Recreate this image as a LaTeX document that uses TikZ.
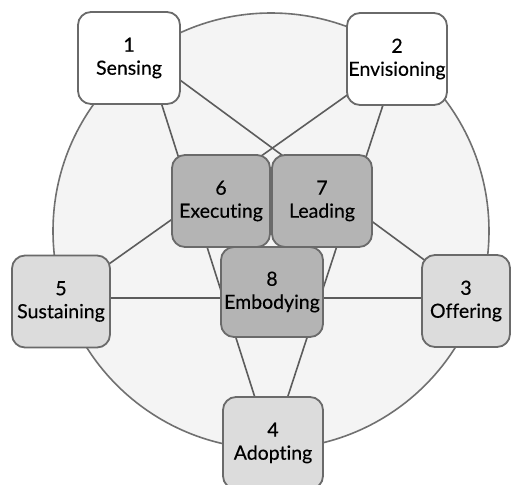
\documentclass[tikz,border=0pt]{standalone}
\usepackage{fontspec}
\setmainfont{Lato}[FakeBold=0.35, Ligatures={NoCommon}]
\begin{document}
\definecolor{ringfill}{HTML}{F4F4F4}
\definecolor{ringline}{HTML}{707070}
\definecolor{starline}{HTML}{5C5C5C}
\definecolor{boxline}{HTML}{6A6A6A}
\definecolor{lightA}{HTML}{DCDCDC}
\definecolor{lightB}{HTML}{E7E7E7}
\definecolor{darkA}{HTML}{B4B4B4}
\definecolor{darkB}{HTML}{C0C0C0}
\begin{tikzpicture}[x=1pt,y=-1pt,
  stagebox/.style={draw=boxline, line width=1.8pt, rounded corners=13pt,
    align=center, inner sep=0pt, minimum height=92pt,
    font=\fontsize{19.5}{23}\selectfont},
  whitebox/.style={stagebox, fill=white},
  lightbox/.style={stagebox, top color=lightA, middle color=lightB, bottom color=lightA},
  darkbox/.style={stagebox, top color=darkA, middle color=darkB, bottom color=darkA},
  starlink/.style={draw=starline, line width=1.6pt}]
\useasboundingbox (0,0) rectangle (512,485);

% ring through the five outer stages
\coordinate (ctr) at (271,231);
\draw[fill=ringfill, draw=ringline, line width=1.6pt] (ctr) circle[radius=218pt];

% pentagram vertices on the ring
\coordinate (p1) at (146,55);
\coordinate (p2) at (398,59);
\coordinate (p3) at (476,298);
\coordinate (p4) at (271,448);
\coordinate (p5) at (61,298);
\draw[starlink] (p1) -- (p3);
\draw[starlink] (p1) -- (p4);
\draw[starlink] (p2) -- (p4);
\draw[starlink] (p2) -- (p5);
\draw[starlink] (p5) -- (p3);

% outer stages
\node[whitebox, minimum width=102pt] (b1) at (129,58) {1\\Sensing};
\node[whitebox, minimum width=100pt] (b2) at (397,59) {2\\Envisioning};
\node[lightbox, minimum width=88pt] (b3) at (466,301) {3\\Offering};
\node[lightbox, minimum width=100pt] (b4) at (273,443) {4\\Adopting};
\node[lightbox, minimum width=98pt] (b5) at (61,301.5) {5\\Sustaining};

% inner stages
\node[darkbox, minimum width=102pt, minimum height=90pt] (b8) at (272,292) {8\\Embodying};
\node[darkbox, minimum width=98pt] (b6) at (221,201) {6\\Executing};
\node[darkbox, minimum width=100pt] (b7) at (322,201) {7\\Leading};
\end{tikzpicture}
\end{document}
